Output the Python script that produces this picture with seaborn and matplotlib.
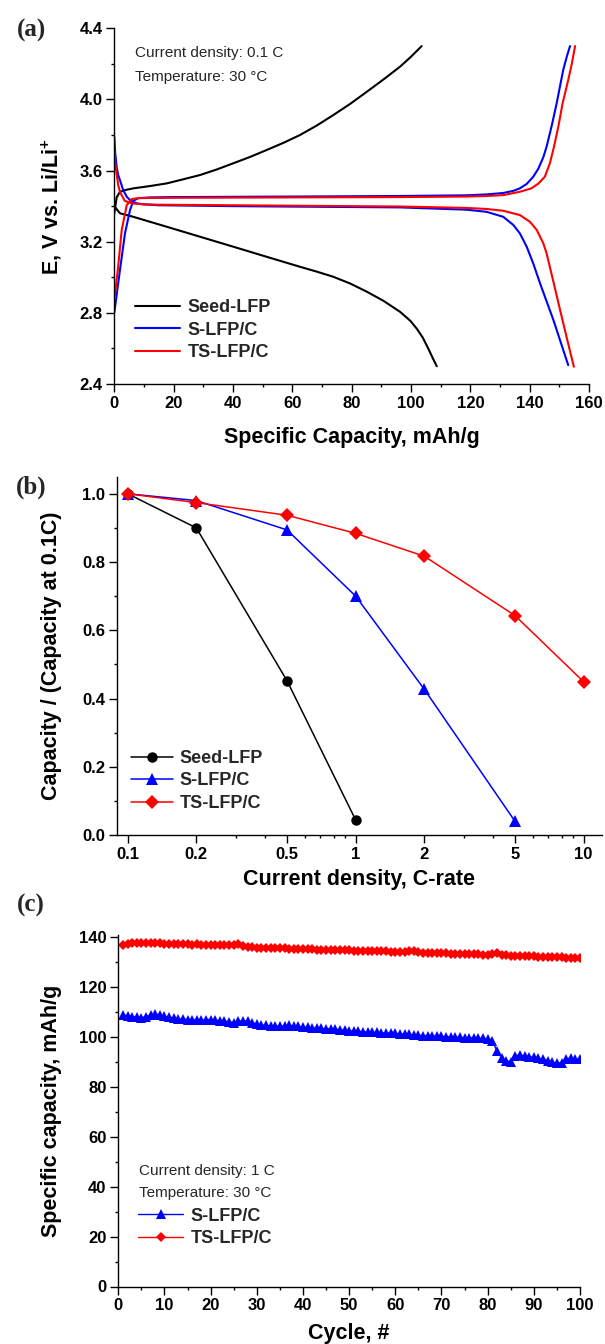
import matplotlib
matplotlib.use("Agg")
import matplotlib.pyplot as plt
import matplotlib.ticker as mticker
import seaborn as sns
import pandas as pd

# ---- (a) charge / discharge curves at 0.1 C (capacity mAh/g, voltage V)
seed_chg_cap = [0, 0.8, 1.9, 3.5, 6.4, 12, 17.7, 23, 28.9, 34.5, 40.1, 45.8, 51.4, 57,
                62.6, 68.2, 73.8, 79.5, 85.1, 90.7, 96.3, 100, 103.6]
seed_chg_v = [3.36, 3.45, 3.48, 3.49, 3.50, 3.513, 3.528, 3.55, 3.575, 3.606, 3.641, 3.677,
              3.716, 3.756, 3.80, 3.853, 3.912, 3.975, 4.043, 4.112, 4.184, 4.24, 4.30]
seed_dis_cap = [0, 1.9, 6.4, 17.7, 28.9, 40.1, 51.4, 62.6, 68.2, 73.8, 79.5, 85.1, 90.7,
                96.3, 99.8, 102.0, 104.0, 105.8, 107.5, 108.7]
seed_dis_v = [3.40, 3.36, 3.34, 3.284, 3.228, 3.172, 3.115, 3.059, 3.032, 3.003, 2.965, 2.919,
              2.868, 2.806, 2.755, 2.71, 2.66, 2.60, 2.54, 2.50]

s_chg_cap = [0, 1.9, 3.6, 5.3, 6.4, 8.1, 12, 20, 60, 96.3, 118.8, 125.5, 131.1, 134.5, 136.7,
             139.0, 141.2, 142.9, 144.6, 145.7, 147.4, 149.1, 150.2, 151.3, 152.5, 153.6]
s_chg_v = [2.80, 3.04, 3.247, 3.378, 3.43, 3.445, 3.449, 3.451, 3.454, 3.457, 3.461, 3.466,
           3.474, 3.486, 3.50, 3.525, 3.565, 3.61, 3.675, 3.734, 3.85, 3.978, 4.072, 4.165,
           4.24, 4.30]
s_dis_cap = [0, 0.3, 0.8, 1.3, 1.9, 3.0, 4.2, 5.5, 7.5, 10, 15, 40, 96.3, 118.8, 125.5, 131.1,
             134.5, 136.7, 139.0, 141.2, 143.5, 148.0, 153.0]
s_dis_v = [3.79, 3.70, 3.62, 3.575, 3.547, 3.49, 3.453, 3.43, 3.416, 3.41, 3.405, 3.40, 3.393,
           3.38, 3.368, 3.34, 3.294, 3.247, 3.172, 3.078, 2.966, 2.76, 2.506]

ts_chg_cap = [0, 1.3, 2.5, 4.2, 5.9, 8, 12, 20, 60, 96.3, 118.8, 125.5, 131.1, 136.7, 140.6,
              143.0, 145.1, 146.8, 148.2, 149.7, 151.1, 153.0, 154.2, 155.3]
ts_chg_v = [2.87, 3.06, 3.266, 3.406, 3.440, 3.445, 3.446, 3.447, 3.449, 3.451, 3.454, 3.457,
            3.462, 3.481, 3.50, 3.528, 3.565, 3.64, 3.734, 3.85, 3.978, 4.109, 4.20, 4.30]
ts_dis_cap = [0, 0.3, 0.8, 1.3, 1.9, 3.5, 6, 10, 15, 40, 96.3, 118.8, 125.5, 131.1, 136.7,
              140.1, 142.4, 144.6, 145.7, 148.0, 150.2, 152.5, 154.9]
ts_dis_v = [3.72, 3.64, 3.58, 3.52, 3.48, 3.43, 3.415, 3.41, 3.408, 3.405, 3.398, 3.39, 3.384,
            3.374, 3.35, 3.312, 3.266, 3.191, 3.135, 2.975, 2.82, 2.66, 2.497]

# ---- (b) rate capability
rate_seed = [0.1, 0.2, 0.5, 1]
ret_seed = [1.0, 0.90, 0.452, 0.044]
rate_s = [0.1, 0.2, 0.5, 1, 2, 5]
ret_s = [1.0, 0.98, 0.894, 0.70, 0.427, 0.040]
rate_ts = [0.1, 0.2, 0.5, 1, 2, 5, 10]
ret_ts = [1.0, 0.974, 0.937, 0.884, 0.817, 0.643, 0.449]
rate_ticks = [0.1, 0.2, 0.5, 1, 2, 5, 10]
rate_labels = ["0.1", "0.2", "0.5", "1", "2", "5", "10"]

# ---- (c) cycling at 1 C
cycles = list(range(1, 101))
cyc_s = [108.9, 108.6, 108.3, 108.0, 107.9, 108.2, 108.9, 109.3, 108.9, 108.4,
         108.0, 107.6, 107.4, 107.2, 107.1, 107.0, 106.9, 106.8, 107.0, 107.1,
         106.8, 106.6, 106.4, 106.2, 105.9, 106.4, 106.6, 106.4, 105.9, 105.2,
         104.9, 104.7, 104.5, 104.5, 104.3, 104.6, 104.7, 104.5, 104.3, 104.1,
         103.9, 103.7, 103.6, 103.5, 103.3, 103.4, 103.2, 103.0, 102.8, 102.6,
         102.5, 102.4, 102.2, 102.1, 102.0, 101.9, 101.8, 101.7, 101.6, 101.5,
         101.3, 101.2, 101.1, 100.9, 100.8, 100.6, 100.5, 100.5, 100.4, 100.3,
         100.2, 100.1, 100.0, 99.9, 99.8, 99.8, 99.7, 99.6, 99.5, 99.3,
         98.6, 94.5, 91.8, 90.4, 90.2, 92.6, 92.8, 92.5, 92.2, 91.9,
         91.5, 91.1, 90.6, 90.0, 89.6, 89.8, 91.3, 91.6, 91.4, 91.2]
cyc_ts = [136.8, 137.5, 137.8, 137.9, 137.8, 137.9, 137.8, 137.8, 137.7, 137.5,
          137.4, 137.4, 137.3, 137.2, 137.2, 137.1, 137.2, 137.0, 137.0, 137.0,
          136.9, 136.8, 136.9, 136.8, 136.9, 137.3, 136.4, 136.1, 136.0, 135.9,
          135.9, 135.8, 135.8, 135.7, 135.6, 135.6, 135.5, 135.5, 135.3, 135.3,
          135.2, 135.2, 135.1, 135.1, 135.0, 135.1, 135.0, 134.9, 134.8, 134.8,
          134.7, 134.7, 134.6, 134.5, 134.5, 134.5, 134.4, 134.4, 134.3, 134.3,
          134.2, 134.3, 134.5, 134.6, 134.2, 133.9, 133.8, 133.8, 133.7, 133.6,
          133.6, 133.5, 133.4, 133.4, 133.3, 133.3, 133.2, 133.2, 133.1, 133.1,
          133.3, 133.6, 133.0, 132.8, 132.7, 132.6, 132.6, 132.5, 132.5, 132.4,
          132.3, 132.3, 132.2, 132.1, 132.1, 132.0, 131.9, 131.8, 131.7, 131.6]

samples = ["Seed-LFP", "S-LFP/C", "TS-LFP/C"]
colors = {"Seed-LFP": "#000000", "S-LFP/C": "#0000ff", "TS-LFP/C": "#ff0000"}

sns.set_theme(style="ticks")
plt.rcParams["font.family"] = ["Liberation Sans", "DejaVu Sans"]
plt.rcParams["mathtext.fontset"] = "custom"
plt.rcParams["mathtext.rm"] = "Liberation Sans:bold"
plt.rcParams["mathtext.default"] = "rm"
plt.rcParams["axes.linewidth"] = 1.0
plt.rcParams["axes.edgecolor"] = "black"

W, H = 605, 1344
fig = plt.figure(figsize=(W / 100, H / 100), dpi=100)


def add_ax(left, right, top, bottom):
    return fig.add_axes([left / W, 1 - bottom / H, (right - left) / W, (bottom - top) / H])


def style_ax(ax):
    sns.despine(ax=ax)
    ax.tick_params(which="major", direction="out", length=5.5, width=1.0, pad=3,
                   labelsize=12, colors="black")
    ax.tick_params(which="minor", direction="out", length=2.5, width=1.0, colors="black")
    for lab in ax.get_xticklabels() + ax.get_yticklabels():
        lab.set_fontweight("bold")


lab_kw = dict(fontsize=15.5, fontweight="bold", color="black")
leg_kw = dict(frameon=False, borderpad=0, borderaxespad=0, prop={"weight": "bold", "size": 13},
              labelspacing=0.3, handletextpad=0.4)

# ---- panel (a)
ax_a = add_ax(114.3, 589, 28.3, 384)
rows = []
for name, branch, caps, vs in [
    ("Seed-LFP", "chg", seed_chg_cap, seed_chg_v), ("Seed-LFP", "dis", seed_dis_cap, seed_dis_v),
    ("S-LFP/C", "chg", s_chg_cap, s_chg_v), ("S-LFP/C", "dis", s_dis_cap, s_dis_v),
    ("TS-LFP/C", "chg", ts_chg_cap, ts_chg_v), ("TS-LFP/C", "dis", ts_dis_cap, ts_dis_v)]:
    for c, v in zip(caps, vs):
        rows.append({"cap": c, "V": v, "sample": name, "branch": branch})
df_a = pd.DataFrame(rows)
sns.lineplot(data=df_a, x="cap", y="V", hue="sample", units="branch", estimator=None, sort=False,
             hue_order=samples, palette=colors, lw=1.5, ax=ax_a)
ax_a.set_xlim(0, 160)
ax_a.set_ylim(2.4, 4.4)
ax_a.xaxis.set_major_locator(mticker.MultipleLocator(20))
ax_a.xaxis.set_minor_locator(mticker.MultipleLocator(10))
ax_a.yaxis.set_major_locator(mticker.MultipleLocator(0.4))
ax_a.yaxis.set_minor_locator(mticker.MultipleLocator(0.2))
ax_a.yaxis.set_major_formatter(mticker.FormatStrFormatter("%.1f"))
style_ax(ax_a)
ax_a.set_xlabel("Specific Capacity, mAh/g", va="center", **lab_kw)
ax_a.set_ylabel("E, V vs. Li/Li$^{+}$", va="center", **lab_kw)
ax_a.xaxis.set_label_coords(0.5, (384 - 437) / 355.7)
ax_a.yaxis.set_label_coords((52 - 114.3) / 474.7, 0.5)
h, l = ax_a.get_legend_handles_labels()
ax_a.legend(h, l, loc="upper left", bbox_to_anchor=(0.044, 0.238), handlelength=2.5, **leg_kw)
ax_a.text(0.044, 0.9306, "Current density: 0.1 C", transform=ax_a.transAxes, fontsize=11, va="center")
ax_a.text(0.044, 0.863, "Temperature: 30 °C", transform=ax_a.transAxes, fontsize=11, va="center")

# ---- panel (b)
ax_b = add_ax(116.7, 601.7, 476.7, 835)
ax_b.set_xscale("log")
for name, xs, ys, mk, ms in [("Seed-LFP", rate_seed, ret_seed, "o", 7.5),
                             ("S-LFP/C", rate_s, ret_s, "^", 8.5),
                             ("TS-LFP/C", rate_ts, ret_ts, "D", 6.8)]:
    sns.lineplot(x=xs, y=ys, color=colors[name], marker=mk, markersize=ms, markeredgewidth=0,
                 lw=1.1, label=name, ax=ax_b)
ax_b.set_xlim(0.0895, 12.0)
ax_b.set_ylim(0, 1.05)
ax_b.xaxis.set_major_locator(mticker.FixedLocator(rate_ticks))
ax_b.xaxis.set_major_formatter(mticker.FixedFormatter(rate_labels))
ax_b.xaxis.set_minor_locator(mticker.FixedLocator([0.3, 0.4, 0.6, 0.7, 0.8, 0.9, 3, 4, 6, 7, 8, 9]))
ax_b.xaxis.set_minor_formatter(mticker.NullFormatter())
ax_b.yaxis.set_major_locator(mticker.MultipleLocator(0.2))
ax_b.yaxis.set_minor_locator(mticker.MultipleLocator(0.1))
ax_b.yaxis.set_major_formatter(mticker.FormatStrFormatter("%.1f"))
style_ax(ax_b)
ax_b.set_xlabel("Current density, C-rate", va="center", **lab_kw)
ax_b.set_ylabel("Capacity / (Capacity at 0.1C)", va="center", **lab_kw)
ax_b.xaxis.set_label_coords(0.5, (835 - 879) / 358.3)
ax_b.yaxis.set_label_coords((52 - 116.7) / 485, 0.5)
h, l = ax_b.get_legend_handles_labels()
ax_b.legend(h, l, loc="upper left", bbox_to_anchor=(0.0295, 0.237), handlelength=2.3, **leg_kw)

# ---- panel (c)
ax_c = add_ax(118.3, 580, 935, 1286.5)
for name, ys, mk, ms in [("S-LFP/C", cyc_s, "^", 7.0), ("TS-LFP/C", cyc_ts, "D", 5.6)]:
    sns.lineplot(x=cycles, y=ys, color=colors[name], marker=mk, markersize=ms, markeredgewidth=0,
                 lw=1.0, label=name, ax=ax_c)
ax_c.set_xlim(0, 100)
ax_c.set_ylim(0, 141)
ax_c.xaxis.set_major_locator(mticker.MultipleLocator(10))
ax_c.xaxis.set_minor_locator(mticker.MultipleLocator(5))
ax_c.yaxis.set_major_locator(mticker.MultipleLocator(20))
ax_c.yaxis.set_minor_locator(mticker.MultipleLocator(10))
style_ax(ax_c)
ax_c.set_xlabel("Cycle, #", va="center", **lab_kw)
ax_c.set_ylabel("Specific capacity, mAh/g", va="center", **lab_kw)
ax_c.xaxis.set_label_coords(0.5, (1286.5 - 1333) / 351.5)
ax_c.yaxis.set_label_coords((52 - 118.3) / 461.7, 0.5)
h, l = ax_c.get_legend_handles_labels()
ax_c.legend(h, l, loc="upper left", bbox_to_anchor=(0.043, 0.224), handlelength=2.5, **leg_kw)
ax_c.text(0.045, 0.3286, "Current density: 1 C", transform=ax_c.transAxes, fontsize=11, va="center")
ax_c.text(0.045, 0.266, "Temperature: 30 °C", transform=ax_c.transAxes, fontsize=11, va="center")

# panel letters
for txt, y in [("(a)", 30), ("(b)", 487), ("(c)", 905)]:
    fig.text(31 / W, 1 - y / H, txt, ha="center", va="center", fontsize=18, fontweight="bold",
             fontfamily=["Liberation Serif", "DejaVu Serif"])

plt.savefig("out.png", dpi=100)
